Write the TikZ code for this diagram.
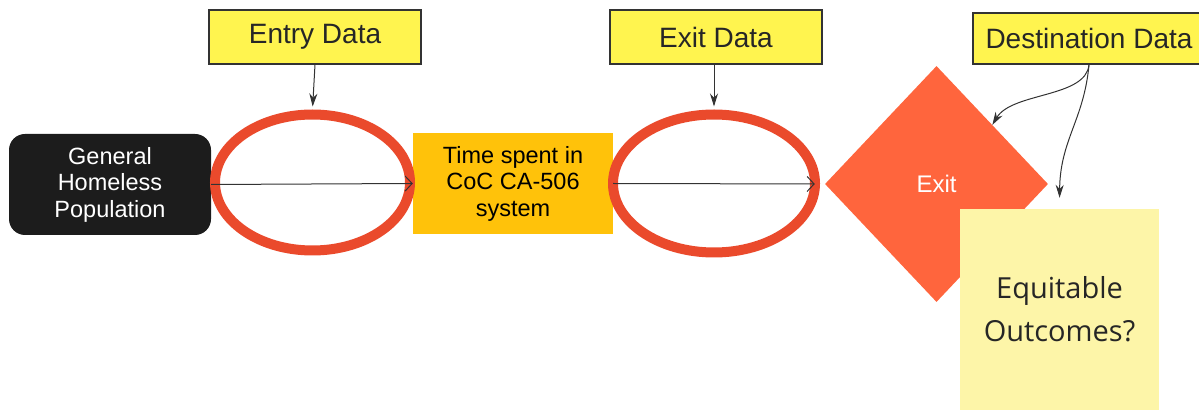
\documentclass[tikz,border=0pt]{standalone}
\usepackage{fontspec}
\setmainfont{Liberation Sans}
\newfontfamily\stickyfont{Open Sans}
\usetikzlibrary{shapes.geometric,arrows.meta}
\definecolor{ringred}{HTML}{EA4A2C}
\definecolor{diamondorange}{HTML}{FF653D}
\definecolor{timeyellow}{HTML}{FFC20A}
\definecolor{labelyellow}{HTML}{FFF44F}
\definecolor{stickyyellow}{HTML}{FDF5A8}
\definecolor{darkbox}{HTML}{1C1C1C}
\definecolor{linegray}{HTML}{333333}
\tikzset{
  labelbox/.style={draw=linegray, line width=1.2pt, fill=labelyellow, inner sep=0pt,
    minimum height=54pt, font=\fontsize{28}{32}\selectfont, text=black!85},
  ring/.style={ellipse, draw=ringred, line width=10pt, inner sep=0pt},
  flowarrow/.style={draw=linegray, line width=1pt, -{Straight Barb[length=7pt,width=15pt]}},
  dataarrow/.style={draw=linegray, line width=1pt, -{Stealth[length=13pt,width=8pt]}},
  bodytext/.style={font=\fontsize{23.5}{26.5}\selectfont, align=center},
}
\begin{document}
\begin{tikzpicture}[x=1pt,y=-1pt]
\useasboundingbox (0,0) rectangle (1199,411);
% main flow
\node[bodytext, fill=darkbox, text=white, rounded corners=16pt, minimum width=202pt, minimum height=101pt, inner sep=0pt] (gh) at (110,184.5) {General\\Homeless\\Population};
\node[bodytext, fill=timeyellow, text=black, minimum width=200pt, minimum height=101pt, inner sep=0pt] (time) at (513,183.5) {Time spent in\\CoC CA-506\\system};
\node[ring, minimum width=195pt, minimum height=136pt] (ring1) at (312.5,182.5) {};
\node[ring, minimum width=202pt, minimum height=138pt] (ring2) at (714,183.5) {};
\node[diamond, fill=diamondorange, minimum width=223pt, minimum height=236pt, inner sep=0pt, text=white, font=\fontsize{24}{28}\selectfont] (exit) at (936.5,184) {Exit};
\node[fill=stickyyellow, minimum width=199pt, minimum height=201pt, inner sep=0pt, text=black!85, align=center, font=\stickyfont\fontsize{29}{43}\selectfont] (sticky) at (1059.5,309.5) {Equitable\\Outcomes?};
% labels
\node[labelbox, minimum width=212pt] (entry) at (315,37) {Entry Data};
\node[labelbox, minimum width=212pt] (exitdata) at (716,37) {Exit Data};
\node[labelbox, minimum width=232pt, minimum height=51pt] (dest) at (1089,38.5) {Destination Data};
% connectors
\draw[flowarrow] (gh.east) -- (time.west);
\draw[flowarrow, shorten >=10pt] (time.east) -- (exit.west);
\draw[dataarrow, shorten >=3pt] (entry.south) -- (ring1.north);
\draw[dataarrow, shorten >=3pt] (exitdata.south -| ring2.north) -- (ring2.north);
\draw[dataarrow] (dest.south) .. controls (1086,98) and (1012,92) .. (exit.north east);
\draw[dataarrow, shorten >=11pt] (dest.south) .. controls (1084,120) and (1060,140) .. (sticky.north);
\end{tikzpicture}
\end{document}
